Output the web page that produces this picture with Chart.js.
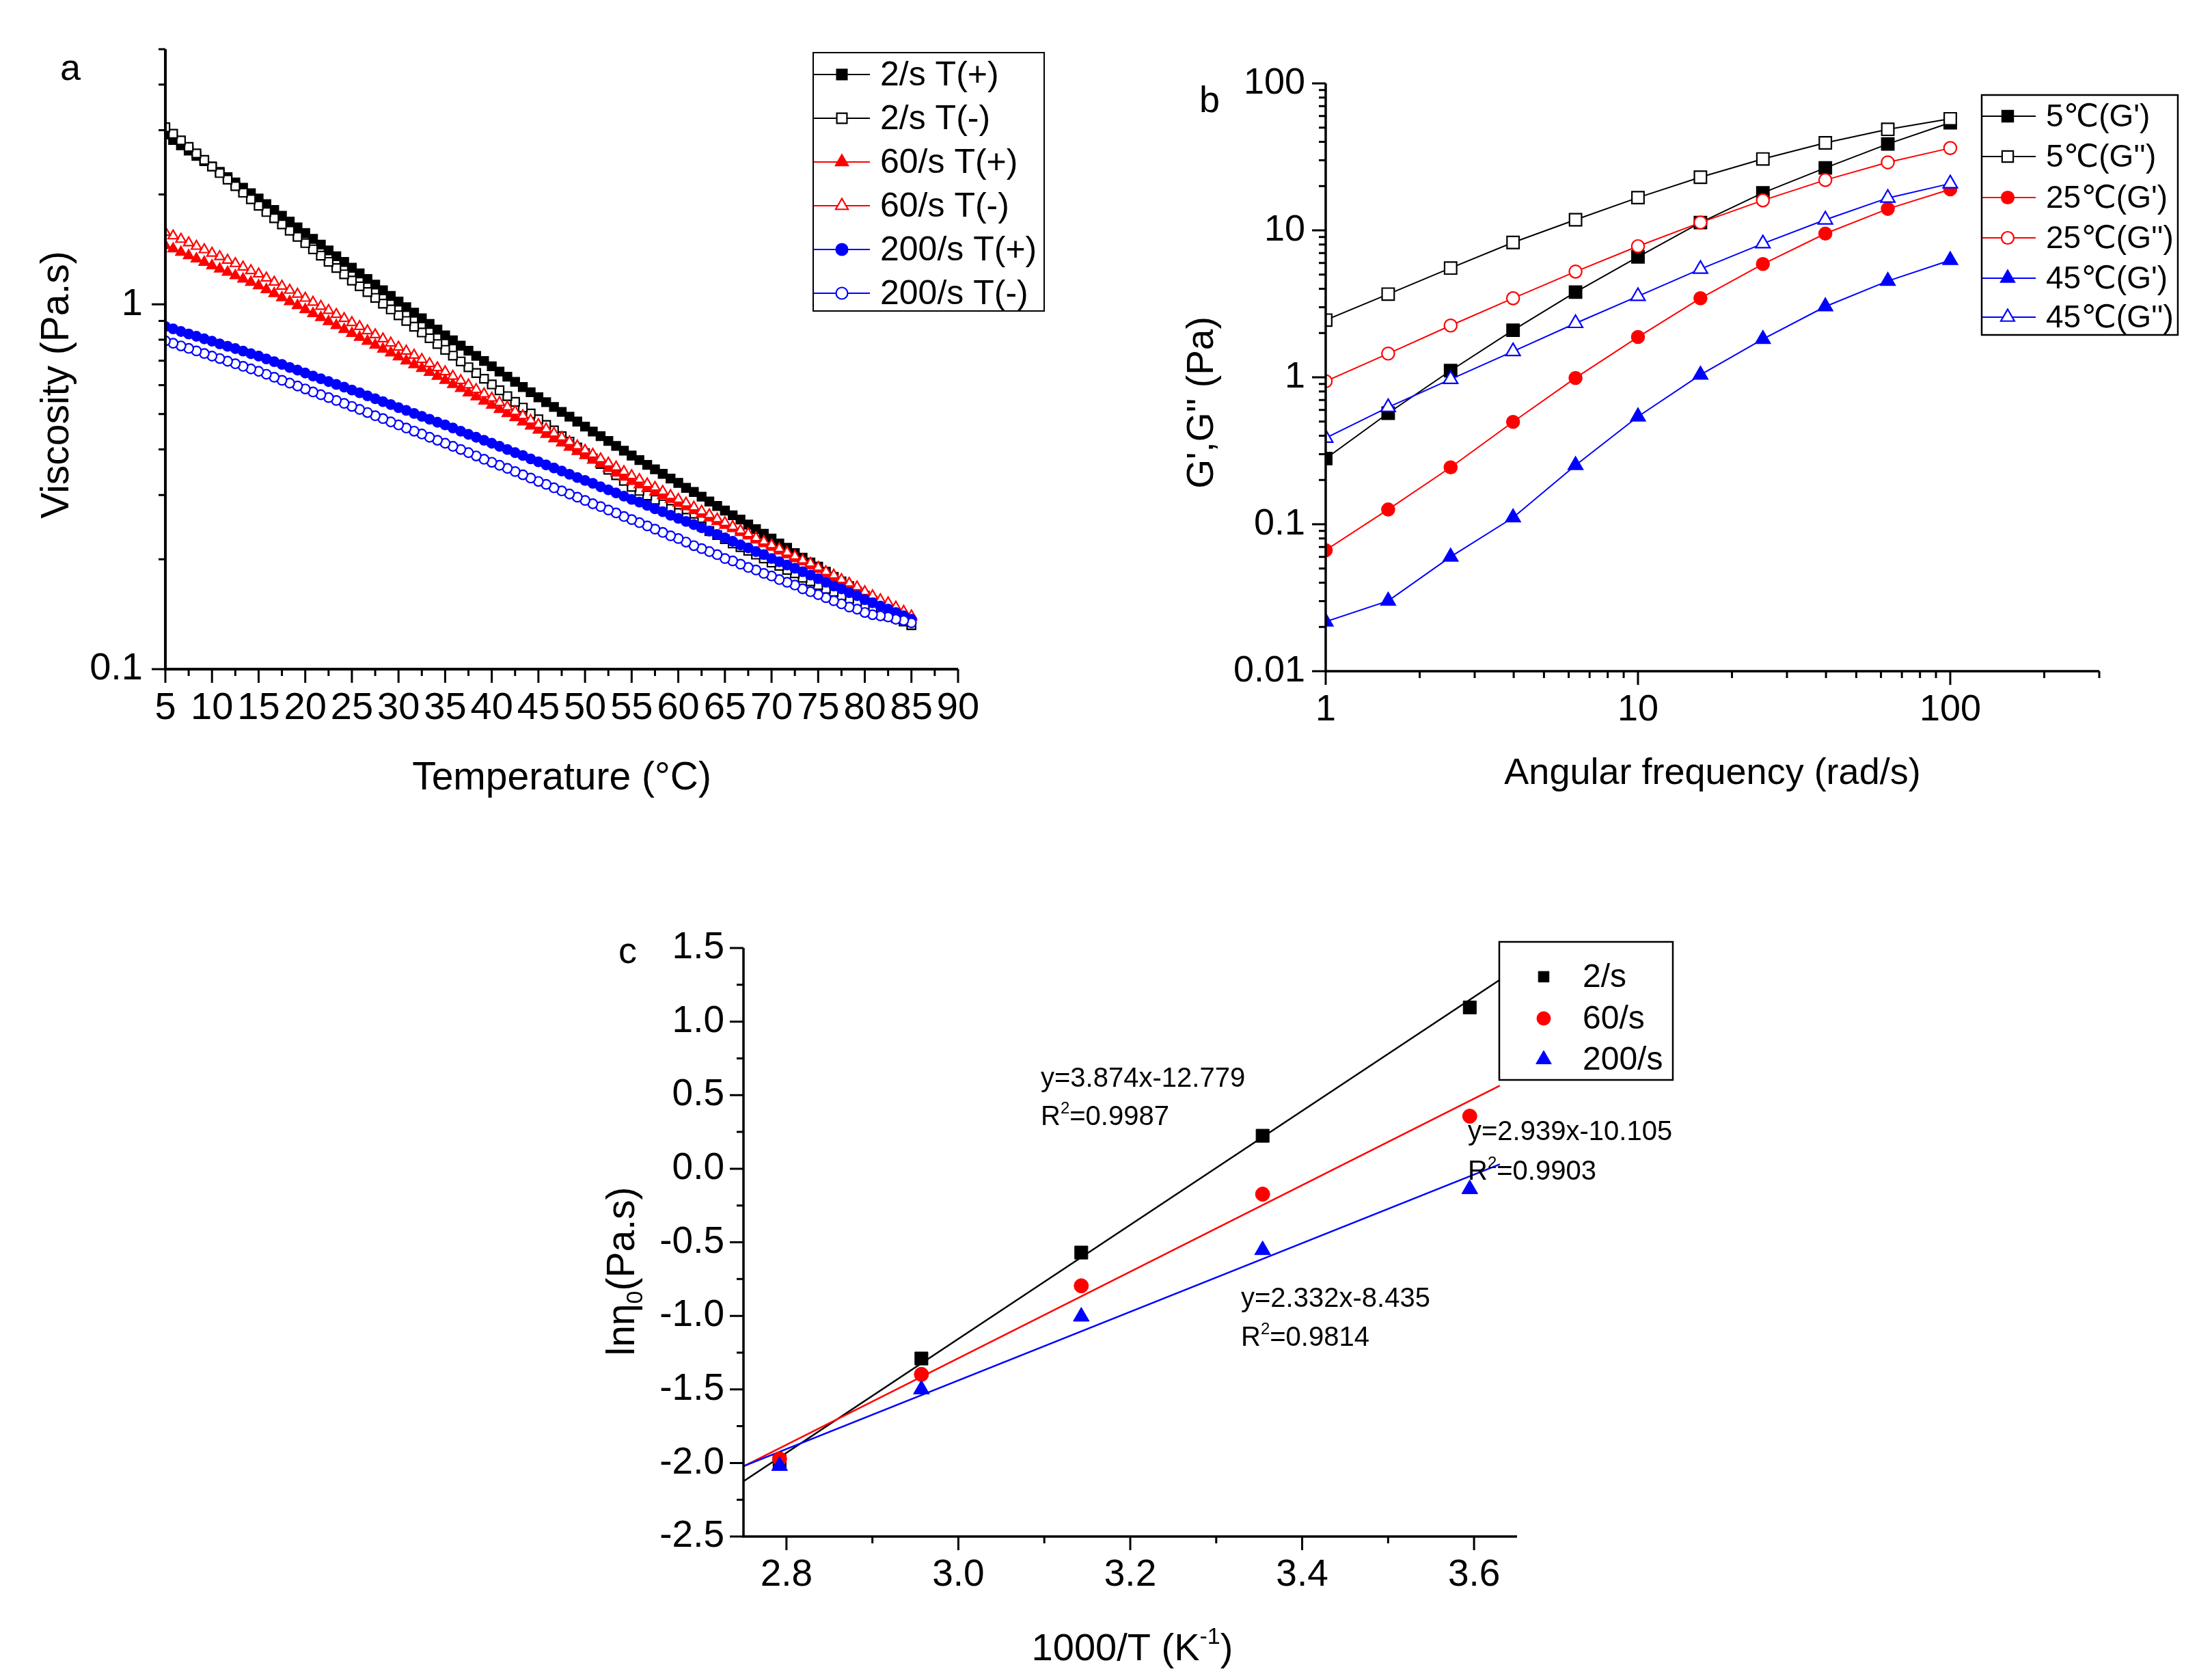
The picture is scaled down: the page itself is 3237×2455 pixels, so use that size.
<!DOCTYPE html>
<html><head><meta charset="utf-8">
<script src="https://cdn.jsdelivr.net/npm/chart.js@4.4.1/dist/chart.umd.min.js"></script>
<style>
html,body{margin:0;padding:0;background:#fff;}
body{width:3237px;height:2455px;position:relative;overflow:hidden;}
canvas{position:absolute;left:0;top:0;}
</style></head>
<body>
<canvas id="ca" width="3237" height="2455"></canvas>
<canvas id="cb" width="3237" height="2455"></canvas>
<canvas id="cc" width="3237" height="2455"></canvas>
<script>
// ---------------- Panel a data ----------------
const tempC = [5, 5.83, 6.67, 7.5, 8.33, 9.17, 10, 10.83, 11.67, 12.5, 13.33, 14.17,
15, 15.83, 16.67, 17.5, 18.33, 19.17, 20, 20.83, 21.67, 22.5, 23.33, 24.17,
25, 25.83, 26.67, 27.5, 28.33, 29.17, 30, 30.83, 31.67, 32.5, 33.33, 34.17,
35, 35.83, 36.67, 37.5, 38.33, 39.17, 40, 40.83, 41.67, 42.5, 43.33, 44.17,
45, 45.83, 46.67, 47.5, 48.33, 49.17, 50, 50.83, 51.67, 52.5, 53.33, 54.17,
55, 55.83, 56.67, 57.5, 58.33, 59.17, 60, 60.83, 61.67, 62.5, 63.33, 64.17,
65, 65.83, 66.67, 67.5, 68.33, 69.17, 70, 70.83, 71.67, 72.5, 73.33, 74.17,
75, 75.83, 76.67, 77.5, 78.33, 79.17, 80, 80.83, 81.67, 82.5, 83.33, 84.17,
85];
const visc2Heat = [2.917, 2.821, 2.728, 2.638, 2.550, 2.466, 2.385, 2.306, 2.230, 2.156, 2.085, 2.016,
1.950, 1.880, 1.813, 1.748, 1.685, 1.625, 1.567, 1.511, 1.457, 1.405, 1.354, 1.306,
1.259, 1.215, 1.173, 1.132, 1.092, 1.054, 1.017, 0.982, 0.948, 0.915, 0.883, 0.852,
0.822, 0.796, 0.770, 0.746, 0.722, 0.699, 0.676, 0.654, 0.633, 0.613, 0.593, 0.574,
0.556, 0.539, 0.523, 0.507, 0.492, 0.477, 0.462, 0.448, 0.435, 0.422, 0.409, 0.397,
0.385, 0.374, 0.363, 0.353, 0.343, 0.333, 0.324, 0.314, 0.306, 0.297, 0.288, 0.280,
0.272, 0.264, 0.257, 0.249, 0.242, 0.235, 0.228, 0.221, 0.215, 0.208, 0.202, 0.196,
0.191, 0.185, 0.179, 0.174, 0.169, 0.163, 0.159, 0.154, 0.149, 0.145, 0.140, 0.136,
0.132];
const visc2Cool = [3.055, 2.932, 2.813, 2.699, 2.590, 2.486, 2.385, 2.289, 2.196, 2.107, 2.022, 1.940,
1.862, 1.790, 1.721, 1.655, 1.591, 1.530, 1.471, 1.414, 1.359, 1.307, 1.257, 1.208,
1.161, 1.120, 1.080, 1.041, 1.004, 0.968, 0.933, 0.900, 0.868, 0.837, 0.807, 0.778,
0.750, 0.723, 0.697, 0.672, 0.648, 0.625, 0.603, 0.581, 0.560, 0.540, 0.521, 0.502,
0.484, 0.467, 0.451, 0.435, 0.420, 0.405, 0.391, 0.378, 0.365, 0.352, 0.340, 0.328,
0.316, 0.308, 0.299, 0.291, 0.283, 0.275, 0.268, 0.260, 0.253, 0.246, 0.239, 0.233,
0.227, 0.221, 0.216, 0.211, 0.206, 0.201, 0.196, 0.192, 0.187, 0.183, 0.178, 0.174,
0.170, 0.166, 0.163, 0.159, 0.156, 0.153, 0.150, 0.147, 0.143, 0.140, 0.138, 0.135,
0.132];
const visc60Heat = [1.449, 1.419, 1.389, 1.360, 1.332, 1.304, 1.276, 1.250, 1.224, 1.198, 1.173, 1.149,
1.125, 1.097, 1.070, 1.043, 1.017, 0.992, 0.967, 0.943, 0.920, 0.897, 0.875, 0.853,
0.832, 0.812, 0.792, 0.773, 0.754, 0.736, 0.718, 0.700, 0.683, 0.667, 0.651, 0.635,
0.619, 0.603, 0.588, 0.572, 0.558, 0.543, 0.529, 0.515, 0.502, 0.489, 0.476, 0.464,
0.452, 0.440, 0.428, 0.417, 0.406, 0.395, 0.385, 0.374, 0.365, 0.355, 0.345, 0.336,
0.327, 0.320, 0.313, 0.306, 0.299, 0.292, 0.285, 0.279, 0.272, 0.266, 0.260, 0.254,
0.248, 0.243, 0.237, 0.232, 0.226, 0.221, 0.216, 0.211, 0.206, 0.201, 0.197, 0.192,
0.188, 0.183, 0.178, 0.174, 0.170, 0.165, 0.161, 0.157, 0.153, 0.150, 0.146, 0.142,
0.139];
const visc60Cool = [1.574, 1.540, 1.507, 1.474, 1.442, 1.411, 1.380, 1.351, 1.321, 1.293, 1.265, 1.237,
1.211, 1.180, 1.150, 1.121, 1.093, 1.066, 1.039, 1.013, 0.987, 0.962, 0.938, 0.914,
0.891, 0.869, 0.846, 0.825, 0.804, 0.783, 0.763, 0.744, 0.725, 0.706, 0.688, 0.670,
0.653, 0.635, 0.618, 0.601, 0.584, 0.568, 0.553, 0.538, 0.523, 0.508, 0.495, 0.481,
0.468, 0.455, 0.443, 0.432, 0.420, 0.409, 0.398, 0.388, 0.377, 0.367, 0.358, 0.348,
0.339, 0.331, 0.322, 0.315, 0.307, 0.299, 0.292, 0.285, 0.278, 0.271, 0.265, 0.258,
0.252, 0.246, 0.240, 0.235, 0.229, 0.224, 0.219, 0.214, 0.209, 0.204, 0.199, 0.195,
0.190, 0.185, 0.181, 0.176, 0.172, 0.168, 0.163, 0.159, 0.155, 0.152, 0.148, 0.144,
0.140];
const visc200Heat = [0.869, 0.856, 0.842, 0.829, 0.817, 0.804, 0.792, 0.779, 0.767, 0.756, 0.744, 0.732,
0.721, 0.708, 0.696, 0.684, 0.671, 0.660, 0.648, 0.636, 0.625, 0.614, 0.603, 0.593,
0.582, 0.572, 0.561, 0.551, 0.541, 0.531, 0.521, 0.512, 0.502, 0.493, 0.484, 0.475,
0.467, 0.458, 0.449, 0.440, 0.432, 0.424, 0.416, 0.408, 0.400, 0.392, 0.385, 0.377,
0.370, 0.363, 0.356, 0.349, 0.342, 0.335, 0.329, 0.323, 0.316, 0.310, 0.304, 0.298,
0.292, 0.287, 0.281, 0.275, 0.270, 0.264, 0.259, 0.254, 0.249, 0.244, 0.239, 0.234,
0.229, 0.224, 0.219, 0.215, 0.210, 0.206, 0.201, 0.197, 0.193, 0.189, 0.185, 0.181,
0.177, 0.173, 0.169, 0.166, 0.162, 0.159, 0.155, 0.152, 0.149, 0.146, 0.143, 0.140,
0.137];
const visc200Cool = [0.794, 0.782, 0.769, 0.757, 0.745, 0.733, 0.721, 0.710, 0.698, 0.687, 0.676, 0.665,
0.655, 0.643, 0.631, 0.619, 0.608, 0.597, 0.586, 0.575, 0.565, 0.555, 0.545, 0.535,
0.525, 0.515, 0.505, 0.495, 0.486, 0.476, 0.467, 0.458, 0.449, 0.441, 0.432, 0.424,
0.416, 0.408, 0.400, 0.392, 0.384, 0.376, 0.369, 0.362, 0.355, 0.348, 0.341, 0.334,
0.327, 0.321, 0.314, 0.308, 0.302, 0.296, 0.290, 0.284, 0.279, 0.273, 0.268, 0.262,
0.257, 0.252, 0.247, 0.242, 0.237, 0.232, 0.228, 0.223, 0.218, 0.214, 0.210, 0.206,
0.201, 0.198, 0.194, 0.190, 0.187, 0.183, 0.180, 0.176, 0.173, 0.170, 0.166, 0.163,
0.160, 0.157, 0.154, 0.151, 0.148, 0.146, 0.143, 0.141, 0.140, 0.139, 0.137, 0.136,
0.134];
const tempTicks = [5,10,15,20,25,30,35,40,45,50,55,60,65,70,75,80,85,90];
const tempMinor = [7.5,12.5,17.5,22.5,27.5,32.5,37.5,42.5,47.5,52.5,57.5,62.5,67.5,72.5,77.5,82.5,87.5];
const viscTicks = [0.1, 1];
const viscMinor = [0.2,0.3,0.4,0.5,0.6,0.7,0.8,0.9,2,3,4,5];
const legendA = ['2/s T(+)','2/s T(-)','60/s T(+)','60/s T(-)','200/s T(+)','200/s T(-)'];

// ---------------- Panel b data ----------------
const freq = [1, 1.585, 2.512, 3.981, 6.31, 10, 15.85, 25.12, 39.81, 63.1, 100];
const g5Store = [0.28, 0.57, 1.11, 2.09, 3.8, 6.6, 11.3, 18, 26.6, 38.7, 54];
const g5Loss = [2.45, 3.68, 5.54, 8.27, 11.8, 16.7, 23, 30.6, 39.4, 48.7, 57.4];
const g25Store = [0.0666, 0.126, 0.244, 0.497, 0.99, 1.88, 3.45, 5.9, 9.5, 14, 19];
const g25Loss = [0.94, 1.45, 2.25, 3.45, 5.24, 7.8, 11.3, 16, 22, 29, 36.3];
const g45Store = [0.0217, 0.0301, 0.060, 0.111, 0.252, 0.54, 1.04, 1.82, 3.03, 4.52, 6.26];
const g45Loss = [0.386, 0.625, 0.97, 1.5, 2.33, 3.56, 5.45, 8.13, 11.8, 16.6, 20.8];
const freqTicks = [1, 10, 100];
const freqMinor = [2,3,4,5,6,7,8,9,20,30,40,50,60,70,80,90,200,300];
const modTicks = [0.01, 0.1, 1, 10, 100];
const modMinor = [0.02,0.03,0.04,0.05,0.06,0.07,0.08,0.09,0.2,0.3,0.4,0.5,0.6,0.7,0.8,0.9,2,3,4,5,6,7,8,9,20,30,40,50,60,70,80,90];
const legendB = ["5\u2103(G')", "5\u2103(G'')", "25\u2103(G')", "25\u2103(G'')", "45\u2103(G')", "45\u2103(G'')"];

// ---------------- Panel c data ----------------
const invT = [2.792, 2.957, 3.143, 3.354, 3.595];
const lnEta2 = [-1.99, -1.29, -0.57, 0.224, 1.096];
const lnEta60 = [-1.973, -1.398, -0.796, -0.173, 0.357];
const lnEta200 = [-2.02, -1.50, -1.005, -0.553, -0.139];
const fitX = [2.75, 3.63];
const fit2 = [-2.125, 1.284];
const fit60 = [-2.023, 0.564];
const fit200 = [-2.022, 0.030];
const invTTicks = [2.8, 3.0, 3.2, 3.4, 3.6];
const invTMinor = [2.9, 3.1, 3.3, 3.5];
const lnTicks = [-2.5, -2.0, -1.5, -1.0, -0.5, 0.0, 0.5, 1.0, 1.5];
const lnMinor = [-2.25, -1.75, -1.25, -0.75, -0.25, 0.25, 0.75, 1.25];
const legendC = ['2/s', '60/s', '200/s'];

// ---------------- helpers ----------------
const FONT = '"Liberation Sans", Arimo, Arial, "DejaVu Sans", sans-serif';
Chart.defaults.font.family = FONT;
Chart.defaults.color = '#000';
const BLACK = '#000000', RED = '#FF0000', BLUE = '#0000FF';

function pts(xs, ys) { return xs.map((x, i) => ({x: x, y: ys[i]})); }

function series(label, data, color, style, filled, r, bw, lw, order) {
  return {
    label: label, data: data, showLine: true, tension: 0,
    borderColor: color, borderWidth: lw, order: order,
    pointStyle: style, pointRadius: r, pointHoverRadius: r,
    pointBackgroundColor: filled ? color : '#FFFFFF',
    pointBorderColor: color, pointBorderWidth: bw, clip: 0
  };
}

function drawAxes(chart, c) {
  const ctx = chart.ctx, a = chart.chartArea, xs = chart.scales.x, ys = chart.scales.y;
  ctx.save();
  ctx.strokeStyle = '#000';
  ctx.lineWidth = c.axisW;
  ctx.lineJoin = 'miter';
  ctx.beginPath();
  ctx.moveTo(a.left, a.top);
  ctx.lineTo(a.left, a.bottom);
  ctx.lineTo(a.right, a.bottom);
  ctx.stroke();
  ctx.lineWidth = c.tickW;
  ctx.beginPath();
  const xt = (vals, len) => vals.forEach(v => { const x = xs.getPixelForValue(v); ctx.moveTo(x, a.bottom); ctx.lineTo(x, a.bottom + len); });
  const yt = (vals, len) => vals.forEach(v => { const y = ys.getPixelForValue(v); ctx.moveTo(a.left, y); ctx.lineTo(a.left - len, y); });
  xt(c.xMajor, c.majorLen); xt(c.xMinor, c.minorLen);
  yt(c.yMajor, c.majorLen); yt(c.yMinor, c.minorLen);
  ctx.stroke();
  ctx.restore();
}

// parts: [[text, 'n'|'sup'|'sub'], ...]
function richText(ctx, parts, x, y, size, align, rot) {
  ctx.save();
  ctx.translate(x, y);
  if (rot) ctx.rotate(rot);
  ctx.fillStyle = '#000';
  ctx.textBaseline = 'alphabetic';
  ctx.textAlign = 'left';
  const fs = p => p[1] === 'n' ? size : Math.round(size * 0.6);
  let w = 0;
  parts.forEach(p => { ctx.font = fs(p) + 'px ' + FONT; w += ctx.measureText(p[0]).width; });
  let cx = align === 'center' ? -w / 2 : 0;
  const base = align === 'center' ? size * 0.35 : 0;
  parts.forEach(p => {
    ctx.font = fs(p) + 'px ' + FONT;
    let dy = 0;
    if (p[1] === 'sup') dy = -size * 0.42;
    if (p[1] === 'sub') dy = size * 0.22;
    ctx.fillText(p[0], cx, base + dy);
    cx += ctx.measureText(p[0]).width;
  });
  ctx.restore();
}

function drawLegend(chart, L) {
  const ctx = chart.ctx;
  ctx.save();
  ctx.strokeStyle = '#000';
  ctx.lineWidth = L.boxW;
  ctx.strokeRect(L.x, L.y, L.w, L.h);
  L.items.forEach((label, i) => {
    const ds = chart.data.datasets[L.ds[i]];
    const y = L.rows[i];
    if (L.line) {
      ctx.strokeStyle = ds.borderColor; ctx.lineWidth = ds.borderWidth;
      ctx.beginPath(); ctx.moveTo(L.lineX0, y); ctx.lineTo(L.lineX1, y); ctx.stroke();
    }
    ctx.fillStyle = ds.pointBackgroundColor;
    ctx.strokeStyle = ds.pointBorderColor;
    ctx.lineWidth = ds.pointBorderWidth;
    Chart.helpers.drawPoint(ctx, {pointStyle: ds.pointStyle, radius: L.r[ds.pointStyle], borderWidth: ds.pointBorderWidth, rotation: 0}, L.markerX, y);
    ctx.fillStyle = '#000';
    ctx.font = L.size + 'px ' + FONT;
    ctx.textAlign = 'left';
    ctx.textBaseline = 'middle';
    ctx.fillText(label, L.textX, y + 2);
  });
  ctx.restore();
}

function tickSetter(list) { return s => { s.ticks = list.map(v => ({value: v})); }; }

const XH = 150;
function scaleX(type, min, max, ticks, fmt, size, pad) {
  return {
    type: type, min: min, max: max, afterBuildTicks: tickSetter(ticks),
    ticks: {autoSkip: false, maxRotation: 0, minRotation: 0, padding: pad, color: '#000',
      font: {family: FONT, size: size}, callback: fmt},
    grid: {display: false, drawTicks: false, tickLength: 0}, border: {display: false},
    afterFit: s => { s.height = XH; }
  };
}
function scaleY(type, min, max, ticks, fmt, size, pad, width) {
  return {
    type: type, min: min, max: max, afterBuildTicks: tickSetter(ticks),
    ticks: {autoSkip: false, padding: pad, color: '#000', font: {family: FONT, size: size}, callback: fmt},
    grid: {display: false, drawTicks: false, tickLength: 0}, border: {display: false},
    afterFit: s => { s.width = width; }
  };
}

const W = 3237, H = 2455;
function baseOptions(area, yWidth, scales) {
  return {
    responsive: false, animation: false, devicePixelRatio: 1, events: [],
    layout: {padding: {left: area.left - yWidth, top: area.top, right: W - area.right, bottom: H - area.bottom - XH}},
    plugins: {legend: {display: false}, tooltip: {enabled: false}, title: {display: false}},
    scales: scales
  };
}

// ---------------- Panel a ----------------
const cool = (xs, ys) => pts(xs, ys).reverse(); // cooling runs were recorded from 85 °C down to 5 °C
new Chart(document.getElementById('ca'), {
  type: 'scatter',
  data: {datasets: [
    series(legendA[0], pts(tempC, visc2Heat), BLACK, 'rect', true, 8.6, 2.2, 2, 6),
    series(legendA[1], cool(tempC, visc2Cool), BLACK, 'rect', false, 8.6, 2.2, 2, 5),
    series(legendA[2], pts(tempC, visc60Heat), RED, 'triangle', true, 8.4, 2.2, 2, 4),
    series(legendA[3], cool(tempC, visc60Cool), RED, 'triangle', false, 8.4, 2.2, 2, 3),
    series(legendA[4], pts(tempC, visc200Heat), BLUE, 'circle', true, 6.8, 2.2, 2, 2),
    series(legendA[5], cool(tempC, visc200Cool), BLUE, 'circle', false, 6.8, 2.2, 2, 1)
  ]},
  options: baseOptions({left: 242, top: 72, right: 1402, bottom: 979}, 242, {
    x: scaleX('linear', 5, 90, tempTicks, v => String(v), 56, 24),
    y: scaleY('logarithmic', 0.1, 5, viscTicks, v => String(v), 56, 33, 242)
  }),
  plugins: [{id: 'decoA', afterDraw(chart) {
    drawAxes(chart, {axisW: 4, tickW: 3, majorLen: 20, minorLen: 10,
      xMajor: tempTicks, xMinor: tempMinor, yMajor: viscTicks, yMinor: viscMinor});
    const ctx = chart.ctx;
    richText(ctx, [['a', 'n']], 88, 117, 54, 'left', 0);
    richText(ctx, [['Temperature (\u00B0C)', 'n']], 822, 1135, 57, 'center', 0);
    richText(ctx, [['Viscosity (Pa.s)', 'n']], 80, 563, 57, 'center', -Math.PI / 2);
    drawLegend(chart, {x: 1190, y: 77, w: 338, h: 378, boxW: 2, line: true,
      lineX0: 1191, lineX1: 1273, markerX: 1232, textX: 1288, size: 50,
      rows: [109, 173, 237, 301, 365, 429], items: legendA, ds: [0, 1, 2, 3, 4, 5],
      r: {rect: 10.5, triangle: 10.5, circle: 8.5}});
  }}]
});

// ---------------- Panel b ----------------
new Chart(document.getElementById('cb'), {
  type: 'scatter',
  data: {datasets: [
    series(legendB[0], pts(freq, g5Store), BLACK, 'rect', true, 12.5, 2.2, 2, 6),
    series(legendB[1], pts(freq, g5Loss), BLACK, 'rect', false, 12.5, 2.2, 2, 5),
    series(legendB[2], pts(freq, g25Store), RED, 'circle', true, 9.2, 2.2, 2, 4),
    series(legendB[3], pts(freq, g25Loss), RED, 'circle', false, 9.2, 2.2, 2, 3),
    series(legendB[4], pts(freq, g45Store), BLUE, 'triangle', true, 12, 2.2, 2, 2),
    series(legendB[5], pts(freq, g45Loss), BLUE, 'triangle', false, 12, 2.2, 2, 1)
  ]},
  options: baseOptions({left: 1940, top: 122, right: 3072, bottom: 982}, 250, {
    x: scaleX('logarithmic', 1, 300, freqTicks, v => String(v), 54, 25),
    y: scaleY('logarithmic', 0.01, 100, modTicks, v => String(v), 54, 30, 250)
  }),
  plugins: [{id: 'decoB', afterDraw(chart) {
    drawAxes(chart, {axisW: 3.5, tickW: 3, majorLen: 20, minorLen: 10,
      xMajor: freqTicks, xMinor: freqMinor, yMajor: modTicks, yMinor: modMinor});
    const ctx = chart.ctx;
    richText(ctx, [['b', 'n']], 1755, 164, 54, 'left', 0);
    richText(ctx, [['Angular frequency (rad/s)', 'n']], 2506, 1128, 54, 'center', 0);
    richText(ctx, [["G',G'' (Pa)", 'n']], 1756, 589, 55, 'center', -Math.PI / 2);
    drawLegend(chart, {x: 2900, y: 139, w: 287, h: 351, boxW: 2.5, line: true,
      lineX0: 2901, lineX1: 2979, markerX: 2938, textX: 2994, size: 46,
      rows: [170, 229, 289, 348, 407, 464], items: legendB, ds: [0, 1, 2, 3, 4, 5],
      r: {rect: 11.5, triangle: 11.5, circle: 9}});
  }}]
});

// ---------------- Panel c ----------------
function scatterSet(label, data, color, style, r, order) {
  return {label: label, data: data, showLine: false, order: order,
    pointStyle: style, pointRadius: r, pointHoverRadius: r,
    pointBackgroundColor: color, pointBorderColor: color, pointBorderWidth: 1, clip: 0};
}
function fitSet(label, data, color, order) {
  return {label: label, data: data, showLine: true, tension: 0, borderColor: color, borderWidth: 2.5,
    pointRadius: 0, order: order, clip: 0};
}
new Chart(document.getElementById('cc'), {
  type: 'scatter',
  data: {datasets: [
    scatterSet(legendC[0], pts(invT, lnEta2), BLACK, 'rect', 13.5, 3),
    scatterSet(legendC[1], pts(invT, lnEta60), RED, 'circle', 10.5, 2),
    scatterSet(legendC[2], pts(invT, lnEta200), BLUE, 'triangle', 13.5, 1),
    fitSet('fit 2/s', pts(fitX, fit2), BLACK, 6),
    fitSet('fit 60/s', pts(fitX, fit60), RED, 5),
    fitSet('fit 200/s', pts(fitX, fit200), BLUE, 4)
  ]},
  options: baseOptions({left: 1088, top: 1387, right: 2220, bottom: 2248}, 250, {
    x: scaleX('linear', 2.75, 3.65, invTTicks, v => v.toFixed(1), 55, 24),
    y: scaleY('linear', -2.5, 1.5, lnTicks, v => v.toFixed(1), 55, 28, 250)
  }),
  plugins: [{id: 'decoC', afterDraw(chart) {
    drawAxes(chart, {axisW: 3.5, tickW: 3, majorLen: 20, minorLen: 10,
      xMajor: invTTicks, xMinor: invTMinor, yMajor: lnTicks, yMinor: lnMinor});
    const ctx = chart.ctx;
    richText(ctx, [['c', 'n']], 905, 1409, 54, 'left', 0);
    richText(ctx, [['1000/T (K', 'n'], ['-1', 'sup'], [')', 'n']], 1657, 2409, 56, 'center', 0);
    richText(ctx, [['ln\u03B7', 'n'], ['0', 'sub'], ['(Pa.s)', 'n']], 908, 1860, 57, 'center', -Math.PI / 2);
    const eq = 40;
    richText(ctx, [['y=3.874x-12.779', 'n']], 1523, 1590, eq, 'left', 0);
    richText(ctx, [['R', 'n'], ['2', 'sup'], ['=0.9987', 'n']], 1523, 1646, eq, 'left', 0);
    richText(ctx, [['y=2.939x-10.105', 'n']], 2148, 1668, eq, 'left', 0);
    richText(ctx, [['R', 'n'], ['2', 'sup'], ['=0.9903', 'n']], 2148, 1726, eq, 'left', 0);
    richText(ctx, [['y=2.332x-8.435', 'n']], 1816, 1912, eq, 'left', 0);
    richText(ctx, [['R', 'n'], ['2', 'sup'], ['=0.9814', 'n']], 1816, 1969, eq, 'left', 0);
    drawLegend(chart, {x: 2194, y: 1378, w: 254, h: 202, boxW: 2.5, line: false,
      markerX: 2259, textX: 2316, size: 48,
      rows: [1429, 1490, 1550], items: legendC, ds: [0, 1, 2],
      r: {rect: 11, triangle: 13, circle: 10}});
  }}]
});
</script>
</body></html>
